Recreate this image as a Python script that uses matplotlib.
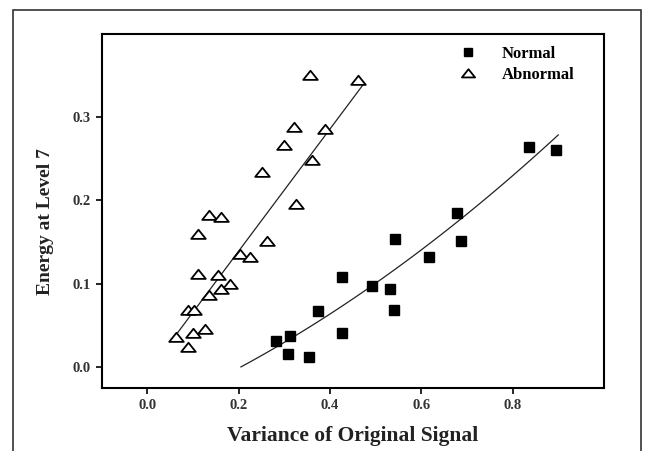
import numpy as np
import matplotlib
matplotlib.use("Agg")
import matplotlib.pyplot as plt
from matplotlib.patches import Rectangle
from matplotlib.path import Path

# Data
normal_x = [0.836, 0.896, 0.678, 0.543, 0.687, 0.616, 0.426, 0.492, 0.532, 0.541,
            0.373, 0.426, 0.281, 0.313, 0.309, 0.354]
normal_y = [0.264, 0.260, 0.185, 0.154, 0.151, 0.132, 0.108, 0.097, 0.094, 0.068,
            0.067, 0.041, 0.031, 0.037, 0.016, 0.012]
abnormal_x = [0.356, 0.462, 0.321, 0.388, 0.300, 0.360, 0.252, 0.325, 0.136, 0.161,
              0.110, 0.263, 0.203, 0.225, 0.110, 0.154, 0.181, 0.161, 0.136, 0.088,
              0.102, 0.127, 0.101, 0.063, 0.088]
abnormal_y = [0.351, 0.344, 0.288, 0.285, 0.266, 0.248, 0.234, 0.195, 0.182, 0.180,
              0.159, 0.151, 0.136, 0.132, 0.112, 0.110, 0.100, 0.093, 0.086, 0.068,
              0.068, 0.046, 0.041, 0.036, 0.024]
x_ticks = [0.0, 0.2, 0.4, 0.6, 0.8]
y_ticks = [0.0, 0.1, 0.2, 0.3]
# fitted lines as drawn in the reference (coefficients)
normal_fit_coef = [0.150, 0.235, -0.0545]   # quadratic
normal_fit_range = [0.205, 0.900]
abnormal_fit_coef = [0.733, -0.0076]        # linear
abnormal_fit_range = [0.054, 0.473]

fig = plt.figure(figsize=(6.46, 4.51), dpi=100)
ax = fig.add_axes([0.1574, 0.1403, 0.7775, 0.785])

tri = Path([(-1.0, -0.6), (1.0, -0.6), (0.0, 0.65), (-1.0, -0.6)],
           [Path.MOVETO, Path.LINETO, Path.LINETO, Path.CLOSEPOLY])

xn = np.linspace(normal_fit_range[0], normal_fit_range[1], 100)
ax.plot(xn, np.polyval(normal_fit_coef, xn), color='#222222', lw=0.9, zorder=2)
xa = np.linspace(abnormal_fit_range[0], abnormal_fit_range[1], 100)
ax.plot(xa, np.polyval(abnormal_fit_coef, xa), color='#222222', lw=0.9, zorder=2)

ax.plot(normal_x, normal_y, linestyle='none', marker='s', markersize=7,
        color='black', label='Normal', zorder=3)
ax.plot(abnormal_x, abnormal_y, linestyle='none', marker=tri, markersize=10.5,
        markerfacecolor='white', markeredgecolor='black', markeredgewidth=1.3,
        label='Abnormal', zorder=3)

ax.set_xlim(-0.1, 1.0)
ax.set_ylim(-0.025, 0.4)
ax.set_xticks(x_ticks)
ax.set_yticks(y_ticks)
ax.set_xticklabels([f"{v:.1f}" for v in x_ticks])
ax.set_yticklabels([f"{v:.1f}" for v in y_ticks])

font = 'Liberation Serif'
for lab in ax.get_xticklabels() + ax.get_yticklabels():
    lab.set_fontfamily(font)
    lab.set_fontweight('bold')
    lab.set_fontsize(10.5)
    lab.set_color('#333333')
ax.tick_params(direction='out', length=4, width=1.2, pad=4)
for s in ax.spines.values():
    s.set_linewidth(1.5)

ax.set_xlabel('Variance of Original Signal', fontfamily=font, fontweight='bold',
              fontsize=15.5, labelpad=10, color='#222222')
ax.set_ylabel('Energy at Level 7', fontfamily=font, fontweight='bold',
              fontsize=14, color='#222222')
ax.yaxis.set_label_coords(-0.095, 0.468)

leg = ax.legend(loc='upper left', bbox_to_anchor=(0.70, 0.985), borderaxespad=0,
                frameon=False,
                prop={'family': font, 'weight': 'bold', 'size': 12},
                handlelength=1.0, handletextpad=1.5, labelspacing=0.3,
                markerscale=0.9)

fig.patches.append(Rectangle((0.0206, -0.05), 0.9717, 1.0285, transform=fig.transFigure,
                             fill=False, edgecolor='#333333', linewidth=1.2,
                             clip_on=False))

fig.savefig('out.png', dpi=100)
